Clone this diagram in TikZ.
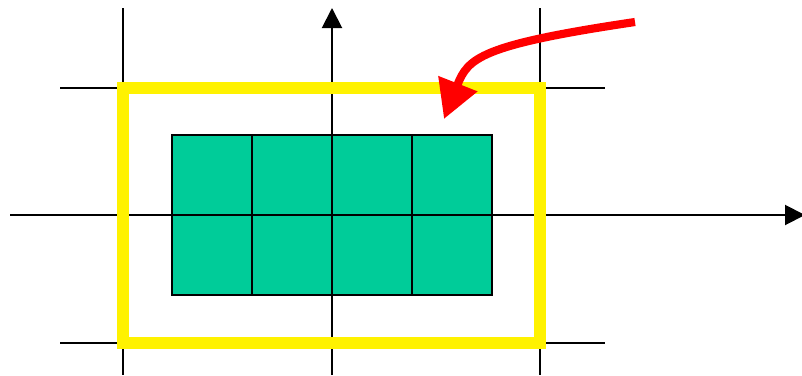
\documentclass[tikz,border=0pt]{standalone}
\usepackage{tikz}
\usetikzlibrary{arrows.meta}
\definecolor{cellgreen}{RGB}{0,204,153}
\tikzset{
    axis/.style={
    draw=black,line width=1.4pt,-{Triangle[length=0.5cm,width=0.5cm]}
    },
    gridline/.style={
    draw=black,line width=1.4pt
    },
    cell/.style={
    fill=cellgreen,draw=black,line width=1.1pt
    },
    frame/.style={
    draw=yellow,line width=8.2pt
    },
    pointer/.style={
    draw=red,line width=5.8pt,-{Triangle[length=0.95cm,width=1.0cm]}
    },
}
\begin{document}
\begin{tikzpicture}[x=0.025cm, y=-0.025cm]
   \useasboundingbox (0,0) rectangle (802,375);
   % green cells
   \foreach \i in {0,...,3}
     \foreach \j in {0,1}
       \draw[cell] ({172+80*\i},{135+80*\j}) rectangle ++(80,80);
   % grid lines
   \draw[gridline] (123,8) -- (123,375);
   \draw[gridline] (540,8) -- (540,375);
   \draw[gridline] (60,88) -- (605,88);
   \draw[gridline] (60,343) -- (605,343);
   % axes
   \coordinate (xs) at (10,215);
   \coordinate (xe) at (805,215);
   \coordinate (ys) at (332,375);
   \coordinate (ye) at (332,8);
   \draw[axis] (xs) -- (xe);
   \draw[axis] (ys) -- (ye);
   % window
   \coordinate (wa) at (123,88);
   \coordinate (wb) at (540,343);
   \draw[frame] (wa) rectangle (wb);
   % arrow
   \coordinate (from) at (635,22);
   \coordinate (to) at (444,119);
   \draw[pointer] (from) .. controls (480,45) and (468,58) .. (to);
\end{tikzpicture}
\end{document}
